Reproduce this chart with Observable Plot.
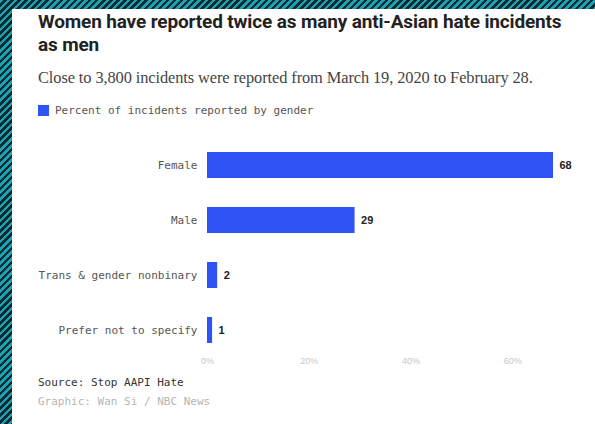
<!DOCTYPE html>
<html>
<head>
<meta charset="utf-8">
<script src="https://cdn.jsdelivr.net/npm/d3@7"></script>
<script src="https://cdn.jsdelivr.net/npm/@observablehq/plot@0.6"></script>
<style>
  html, body { margin: 0; padding: 0; }
  body {
    width: 595px; height: 424px; overflow: hidden; position: relative;
    background: repeating-linear-gradient(135deg, #1aa3b5 0px, #1aa3b5 2.5px, #0b2b33 2.5px, #0b2b33 5px);
  }
  #panel { position: absolute; left: 12px; top: 9px; right: 0; bottom: 0; background: #fff; }
  .abs { position: absolute; white-space: nowrap; }
  #title { left: 26px; top: 1px; font: 700 19px/23px Roboto, sans-serif; color: #222; letter-spacing: -0.15px; width: 532px; white-space: normal; }
  #subtitle { left: 26px; top: 59px; font: 400 16.4px "Liberation Serif", serif; color: #444; letter-spacing: -0.1px; }
  #legend { left: 26px; top: 95px; font: 400 11px "DejaVu Sans Mono", monospace; color: #555; display: flex; align-items: center; }
  #legend .sw { width: 11px; height: 11px; background: #2e54f6; margin-right: 6px; display: inline-block; }
  #chart { left: 0; top: 121px; }
  #source { left: 26px; top: 367px; font: 400 11px "DejaVu Sans Mono", monospace; color: #333; }
  #credit { left: 26px; top: 386px; font: 400 11px "DejaVu Sans Mono", monospace; color: #b5b5b5; }
</style>
</head>
<body>
<div id="panel">
  <div id="title" class="abs">Women have reported twice as many anti-Asian hate incidents as men</div>
  <div id="subtitle" class="abs">Close to 3,800 incidents were reported from March 19, 2020 to February 28.</div>
  <div id="legend" class="abs"><span class="sw"></span>Percent of incidents reported by gender</div>
  <div id="chart" class="abs"></div>
  <div id="source" class="abs">Source: Stop AAPI Hate</div>
  <div id="credit" class="abs">Graphic: Wan Si / NBC News</div>
</div>
<script>
const categories = ["Female", "Male", "Trans & gender nonbinary", "Prefer not to specify"];
const percents = [68, 29, 2, 1];
const xTicks = [0, 20, 40, 60];

const data = categories.map((c, i) => ({category: c, value: percents[i]}));

const chart = Plot.plot({
  width: 583,
  height: 246,
  marginLeft: 195,
  marginRight: 42,
  marginTop: 10,
  marginBottom: 20,
  style: {background: "transparent", overflow: "visible"},
  x: {domain: [0, 68]},
  y: {domain: categories, paddingInner: 0.52, paddingOuter: 0.2},
  marks: [
    Plot.barX(data, {x: "value", y: "category", fill: "#2e54f6"}),
    Plot.text(data, {x: "value", y: "category", text: d => String(d.value), dx: 6, textAnchor: "start",
      fontFamily: "Liberation Sans, sans-serif", fontWeight: 700, fontSize: 11, fill: "#222"}),
    Plot.axisY({tickSize: 0, tickPadding: 10, label: null, fontFamily: "DejaVu Sans Mono, monospace", fontSize: 11, fill: "#555"}),
    Plot.axisX({ticks: xTicks, tickSize: 0, tickPadding: 1, label: null, tickFormat: d => d + "%",
      fontFamily: "Liberation Sans, sans-serif", fontSize: 9, fill: "#c8c8c8"})
  ]
});
document.getElementById("chart").appendChild(chart);
</script>
</body>
</html>
